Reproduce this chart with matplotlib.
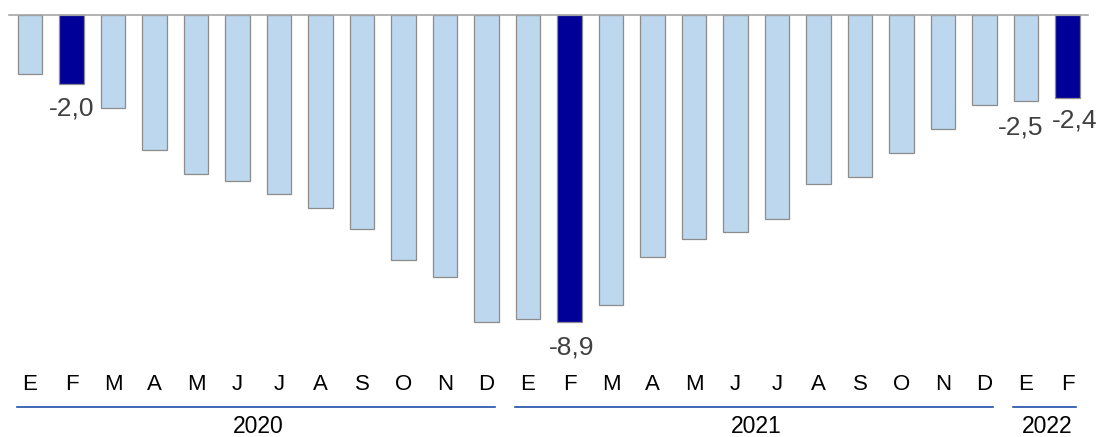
import matplotlib
matplotlib.use("Agg")
import matplotlib.pyplot as plt

plt.rcParams['font.family'] = ['Liberation Sans', 'DejaVu Sans']

# Data
months = ["E", "F", "M", "A", "M", "J", "J", "A", "S", "O", "N", "D",
          "E", "F", "M", "A", "M", "J", "J", "A", "S", "O", "N", "D",
          "E", "F"]
values = [-1.7, -2.0, -2.7, -3.9, -4.6, -4.8, -5.2, -5.6, -6.2, -7.1, -7.6, -8.9,
          -8.8, -8.9, -8.4, -7.0, -6.5, -6.3, -5.9, -4.9, -4.7, -4.0, -3.3, -2.6,
          -2.5, -2.4]
highlight = [1, 13, 25]
labelled = {1: "-2,0", 13: "-8,9", 24: "-2,5", 25: "-2,4"}
years = ["2020", "2021", "2022"]
year_spans = [(0, 11), (12, 23), (24, 25)]

light = "#BDD7EE"
dark = "#000099"

fig = plt.figure(figsize=(10.99, 4.37), dpi=100)
ax = fig.add_axes([0, 0, 1, 1])
px_x = 41.5   # pixels per bar step
px_y = 34.5   # pixels per unit
x0_px, y0_px = 30, 15
ax.set_xlim(-x0_px / px_x, (1099 - x0_px) / px_x)
ax.set_ylim(-(437 - y0_px) / px_y, y0_px / px_y)
ax.axis("off")

x = list(range(len(values)))
colors = [dark if i in highlight else light for i in x]
ax.bar(x, values, width=0.58, color=colors, edgecolor="#8c8c8c", linewidth=0.9, zorder=2)
ax.plot([-0.5, 25.5], [0, 0], color="#a6a6a6", linewidth=1.2, zorder=3)

# value labels
offsets = {1: 0.70, 13: 0.75, 24: 0.75, 25: 0.67}
shifts = {13: 0.04, 24: -0.14, 25: 0.18}
for i, txt in labelled.items():
    ax.text(i + shifts.get(i, 0), values[i] - offsets[i], txt, ha="center", va="center",
            fontsize=19, color="#404040")

# month labels
y_month = -(385 - y0_px) / px_y
for i, m in enumerate(months):
    ax.text(i, y_month, m, ha="center", va="center", fontsize=16, color="black")

# year lines and labels
y_line = -(407 - y0_px) / px_y
y_year = -(426.5 - y0_px) / px_y
for yr, (a, b) in zip(years, year_spans):
    ax.plot([a - 0.31, b + 0.2], [y_line, y_line], color="#1f4ea8", linewidth=1.2)
    ax.text((a + b) / 2, y_year, yr, ha="center", va="center", fontsize=16.5, color="black")

fig.savefig("out.png", dpi=100)
